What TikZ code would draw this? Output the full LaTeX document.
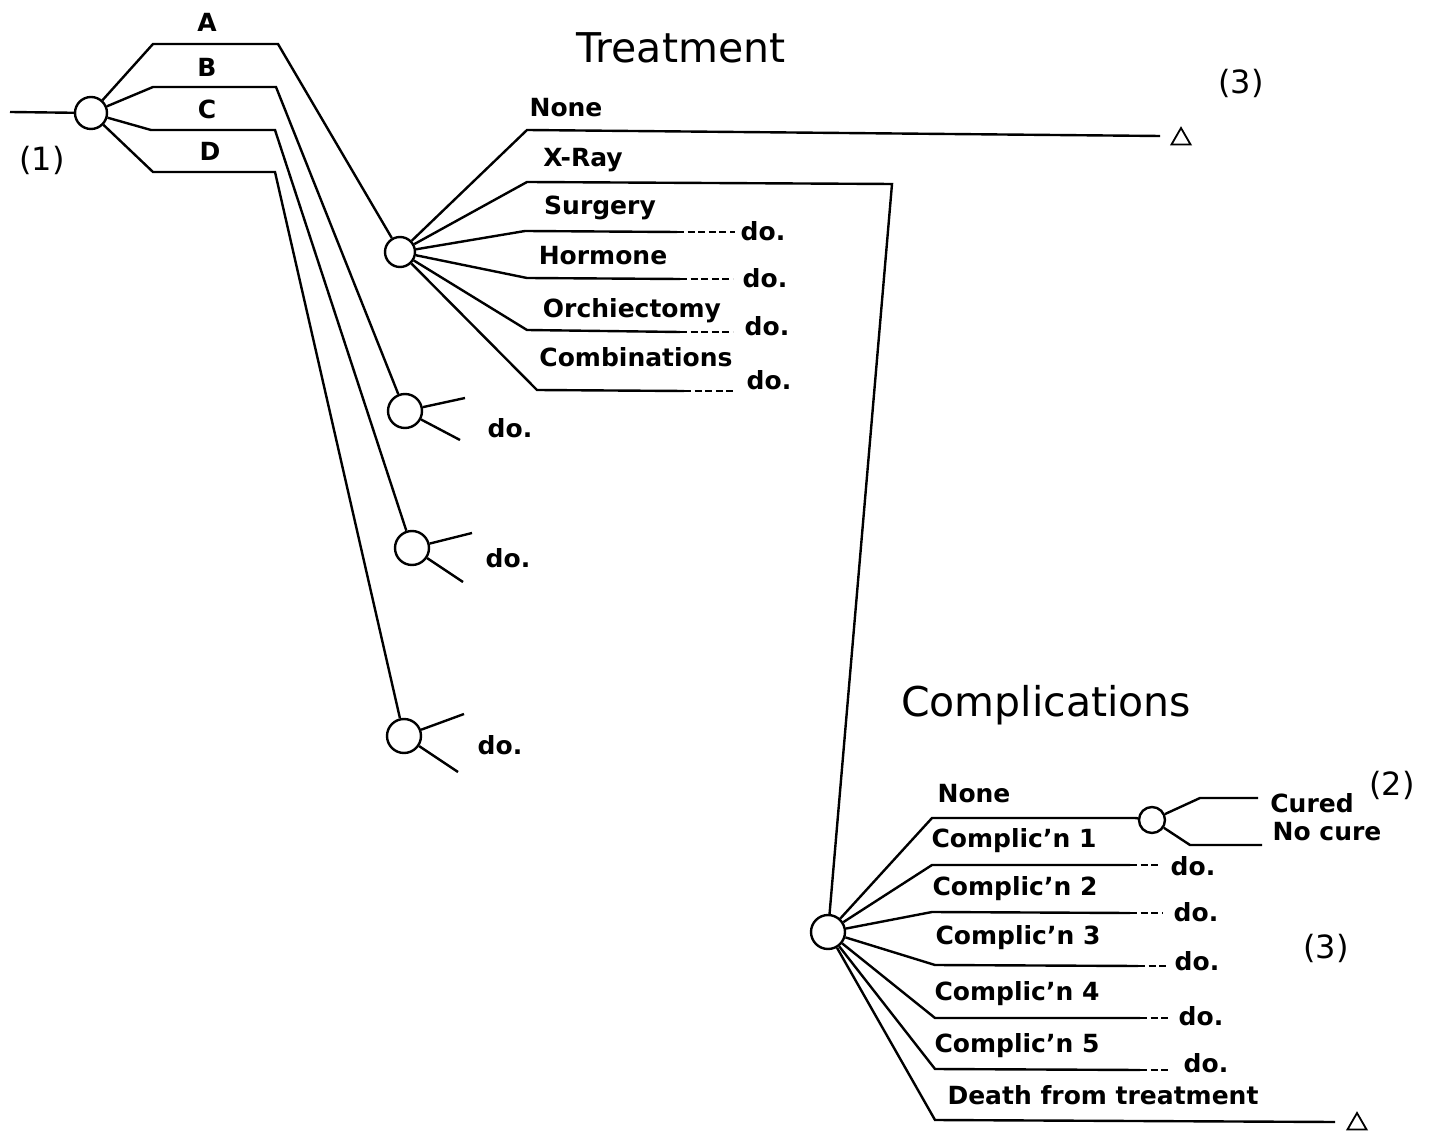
\documentclass[tikz,border=0pt]{standalone}
\usepackage{fontspec}
\setmainfont{DejaVu Sans}
\usetikzlibrary{shapes.geometric}
\newcommand{\apos}{{\char"0027}}
\begin{document}
\begin{tikzpicture}[x=0.5pt,y=-0.5pt,line width=1.2pt,
  chance/.style={draw,circle,inner sep=0pt,minimum size=#1},
  chance/.default=16pt,
  lbl/.style={font=\fontsize{12.5}{14}\selectfont\bfseries,inner sep=0pt},
  big/.style={font=\fontsize{20.5}{24}\selectfont,inner sep=0pt},
  num/.style={font=\fontsize{16}{18}\selectfont,inner sep=0pt},
  dotext/.style={dashed,dash pattern=on 3.5pt off 1.8pt},
  term/.style={draw,regular polygon,regular polygon sides=3,minimum size=11pt,inner sep=0pt,line width=0.9pt}]
\useasboundingbox (0,0) rectangle (1429,1133);

% ---------- root and A-D branches ----------
\coordinate (r0) at (10,112);
\node[chance] (n1) at (91,113) {};
\draw (r0) -- (n1);
\node[num] (l1) at (42,160) {(1)};

\coordinate (a1) at (153,44);  \coordinate (a2) at (278,44);
\coordinate (b1) at (153,87);  \coordinate (b2) at (276,87);
\coordinate (c1) at (151,130); \coordinate (c2) at (275,130);
\coordinate (d1) at (153,172); \coordinate (d2) at (275,172);

\node[chance=15pt] (T) at (400,252) {};
\node[chance=17pt] (cB) at (405,411) {};
\node[chance=17pt] (cC) at (412,548) {};
\node[chance=17pt] (cD) at (404,736) {};

\draw (n1) -- (a1) -- (a2) -- (T);
\draw (n1) -- (b1) -- (b2) -- (cB);
\draw (n1) -- (c1) -- (c2) -- (cC);
\draw (n1) -- (d1) -- (d2) -- (cD);

\node[lbl] (lA) at (207,22) {A};
\node[lbl] (lB) at (207,67) {B};
\node[lbl] (lC) at (207,109) {C};
\node[lbl] (lD) at (210,151) {D};

% stubs
\coordinate (sB1) at (465,398); \coordinate (sB2) at (460,440);
\coordinate (sC1) at (472,533); \coordinate (sC2) at (463,582);
\coordinate (sD1) at (464,714); \coordinate (sD2) at (458,772);
\draw (cB) -- (sB1); \draw (cB) -- (sB2);
\draw (cC) -- (sC1); \draw (cC) -- (sC2);
\draw (cD) -- (sD1); \draw (cD) -- (sD2);
\node[lbl] (doB) at (510,428) {do.};
\node[lbl] (doC) at (508,558) {do.};
\node[lbl] (doD) at (500,745) {do.};

% ---------- Treatment ----------
\node[big] (tt) at (681,48) {Treatment};
\node[num] (l3a) at (1241,83) {(3)};

\node[term] (tri1) at (1181,139) {};
\coordinate (t1a) at (527,130); \coordinate (t1b) at (1160,136);
\draw (T) -- (t1a) -- (t1b);
\node[lbl] (lNone) at (566,108) {None};

\coordinate (t2a) at (527,182); \coordinate (t2b) at (892,184);
\node[chance=17pt] (Cx) at (828,932) {};
\draw (T) -- (t2a) -- (t2b) -- (Cx);
\node[lbl] (lX) at (583,160) {X-Ray};

\coordinate (t3a) at (525,231); \coordinate (t3b) at (677,232); \coordinate (t3c) at (735,232);
\draw (T) -- (t3a) -- (t3b); \draw[dotext] (t3b) -- (t3c);
\node[lbl] (lS) at (600,208) {Surgery};
\node[lbl] (do3) at (763,231) {do.};

\coordinate (t4a) at (527,278); \coordinate (t4b) at (680,279); \coordinate (t4c) at (733,279);
\draw (T) -- (t4a) -- (t4b); \draw[dotext] (t4b) -- (t4c);
\node[lbl] (lH) at (603,256) {Hormone};
\node[lbl] (do4) at (765,278) {do.};

\coordinate (t5a) at (527,330); \coordinate (t5b) at (680,332); \coordinate (t5c) at (733,332);
\draw (T) -- (t5a) -- (t5b); \draw[dotext] (t5b) -- (t5c);
\node[lbl] (lO) at (632,311) {Orchiectomy};
\node[lbl] (do5) at (767,326) {do.};

\coordinate (t6a) at (537,390); \coordinate (t6b) at (684,391); \coordinate (t6c) at (733,391);
\draw (T) -- (t6a) -- (t6b); \draw[dotext] (t6b) -- (t6c);
\node[lbl] (lCo) at (636,357) {Combinations};
\node[lbl] (do6) at (769,380) {do.};

% ---------- Complications ----------
\node[big] (ct) at (1046,705) {Complications};

\coordinate (k0a) at (932,818); \coordinate (k0b) at (1135,818);
\node[chance=13pt] (cN) at (1152,820) {};
\draw (Cx) -- (k0a) -- (k0b) -- (cN);
\node[lbl] (lkN) at (974,794) {None};
\coordinate (cu1) at (1200,798); \coordinate (cu2) at (1258,798);
\coordinate (nc1) at (1190,845); \coordinate (nc2) at (1262,845);
\draw (cN) -- (cu1) -- (cu2);
\draw (cN) -- (nc1) -- (nc2);
\node[lbl] (lcu) at (1312,803) {Cured};
\node[lbl] (lnc) at (1327,832) {No cure};
\node[num] (l2) at (1392,785) {(2)};
\node[num] (l3b) at (1326,948) {(3)};

\coordinate (k1a) at (932,865); \coordinate (k1b) at (1130,865); \coordinate (k1c) at (1160,865);
\draw (Cx) -- (k1a) -- (k1b); \draw[dotext] (k1b) -- (k1c);
\node[lbl] (lk1) at (1014,841) {Complic\apos n 1};
\node[lbl] (dk1) at (1193,866) {do.};

\coordinate (k2a) at (932,912); \coordinate (k2b) at (1130,913); \coordinate (k2c) at (1162,913);
\draw (Cx) -- (k2a) -- (k2b); \draw[dotext] (k2b) -- (k2c);
\node[lbl] (lk2) at (1015,889) {Complic\apos n 2};
\node[lbl] (dk2) at (1196,912) {do.};

\coordinate (k3a) at (935,965); \coordinate (k3b) at (1138,966); \coordinate (k3c) at (1168,966);
\draw (Cx) -- (k3a) -- (k3b); \draw[dotext] (k3b) -- (k3c);
\node[lbl] (lk3) at (1018,938) {Complic\apos n 3};
\node[lbl] (dk3) at (1197,961) {do.};

\coordinate (k4a) at (935,1018); \coordinate (k4b) at (1140,1018); \coordinate (k4c) at (1168,1018);
\draw (Cx) -- (k4a) -- (k4b); \draw[dotext] (k4b) -- (k4c);
\node[lbl] (lk4) at (1017,994) {Complic\apos n 4};
\node[lbl] (dk4) at (1201,1016) {do.};

\coordinate (k5a) at (935,1069); \coordinate (k5b) at (1140,1070); \coordinate (k5c) at (1168,1070);
\draw (Cx) -- (k5a) -- (k5b); \draw[dotext] (k5b) -- (k5c);
\node[lbl] (lk5) at (1017,1046) {Complic\apos n 5};
\node[lbl] (dk5) at (1206,1063) {do.};

\node[term] (tri2) at (1357,1124) {};
\coordinate (k6a) at (935,1120); \coordinate (k6b) at (1335,1122);
\draw (Cx) -- (k6a) -- (k6b);
\node[lbl] (lk6) at (1103,1095) {Death from treatment};
\end{tikzpicture}
\end{document}
